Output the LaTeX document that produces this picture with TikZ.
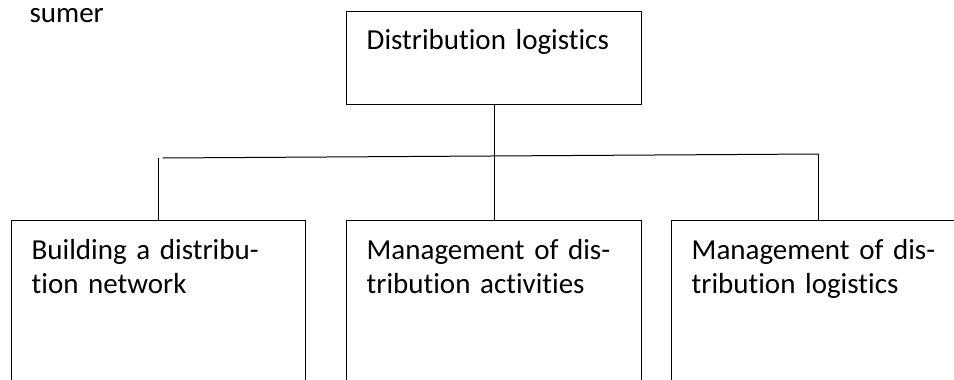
\documentclass[tikz,border=0pt]{standalone}
\usepackage{fontspec}
\setmainfont{Carlito}[Ligatures={NoCommon,TeX}]
\usetikzlibrary{positioning, calc}

\begin{document}
\begin{tikzpicture}[
    x = 1pt, y = 1pt,
    every node/.style = {font=\fontsize{29}{34}\selectfont},
    box/.style     = {draw, line width=1.4pt, anchor=north west, align=left,
                      inner xsep=20pt, inner ysep=0pt},
    topbox/.style  = {box, text width=255pt, text height=38pt, text depth=55pt},
    lowbox/.style  = {box, text width=254pt, text height=39pt, text depth=200pt},
    link/.style    = {line width=1pt},
]

%% Frame of the page
\useasboundingbox (0,0) rectangle (954,-380);
\clip (0,0) rectangle (954,-380);

%% Rest of the text above
\node[anchor=base west] (sumer) at (26,-23) {sumer};

%% Main box
\node[topbox] (dl) at (346,-11) {Distribution logistics};

%% Lower row
\node[lowbox] (net)  at (11,-220)  {Building a distribu-\\tion network};
\node[lowbox, text width=255pt] (act) at (346,-220)
    {Management of dis-\\tribution activities};
\node[lowbox] (mgt)  at (671,-220) {Management of dis-\\tribution logistics};

%% Connectors
\coordinate (busl) at (net.north |- 0,-158);
\coordinate (busr) at (mgt.north |- 0,-154);
\draw[link] (dl.south) -- (dl.south |- act.north);
\draw[link] ($(busl)+(4,0)$) -- (busr);
\draw[link] (busl) -- (net.north);
\draw[link] (busr) -- (mgt.north);

\end{tikzpicture}
\end{document}
